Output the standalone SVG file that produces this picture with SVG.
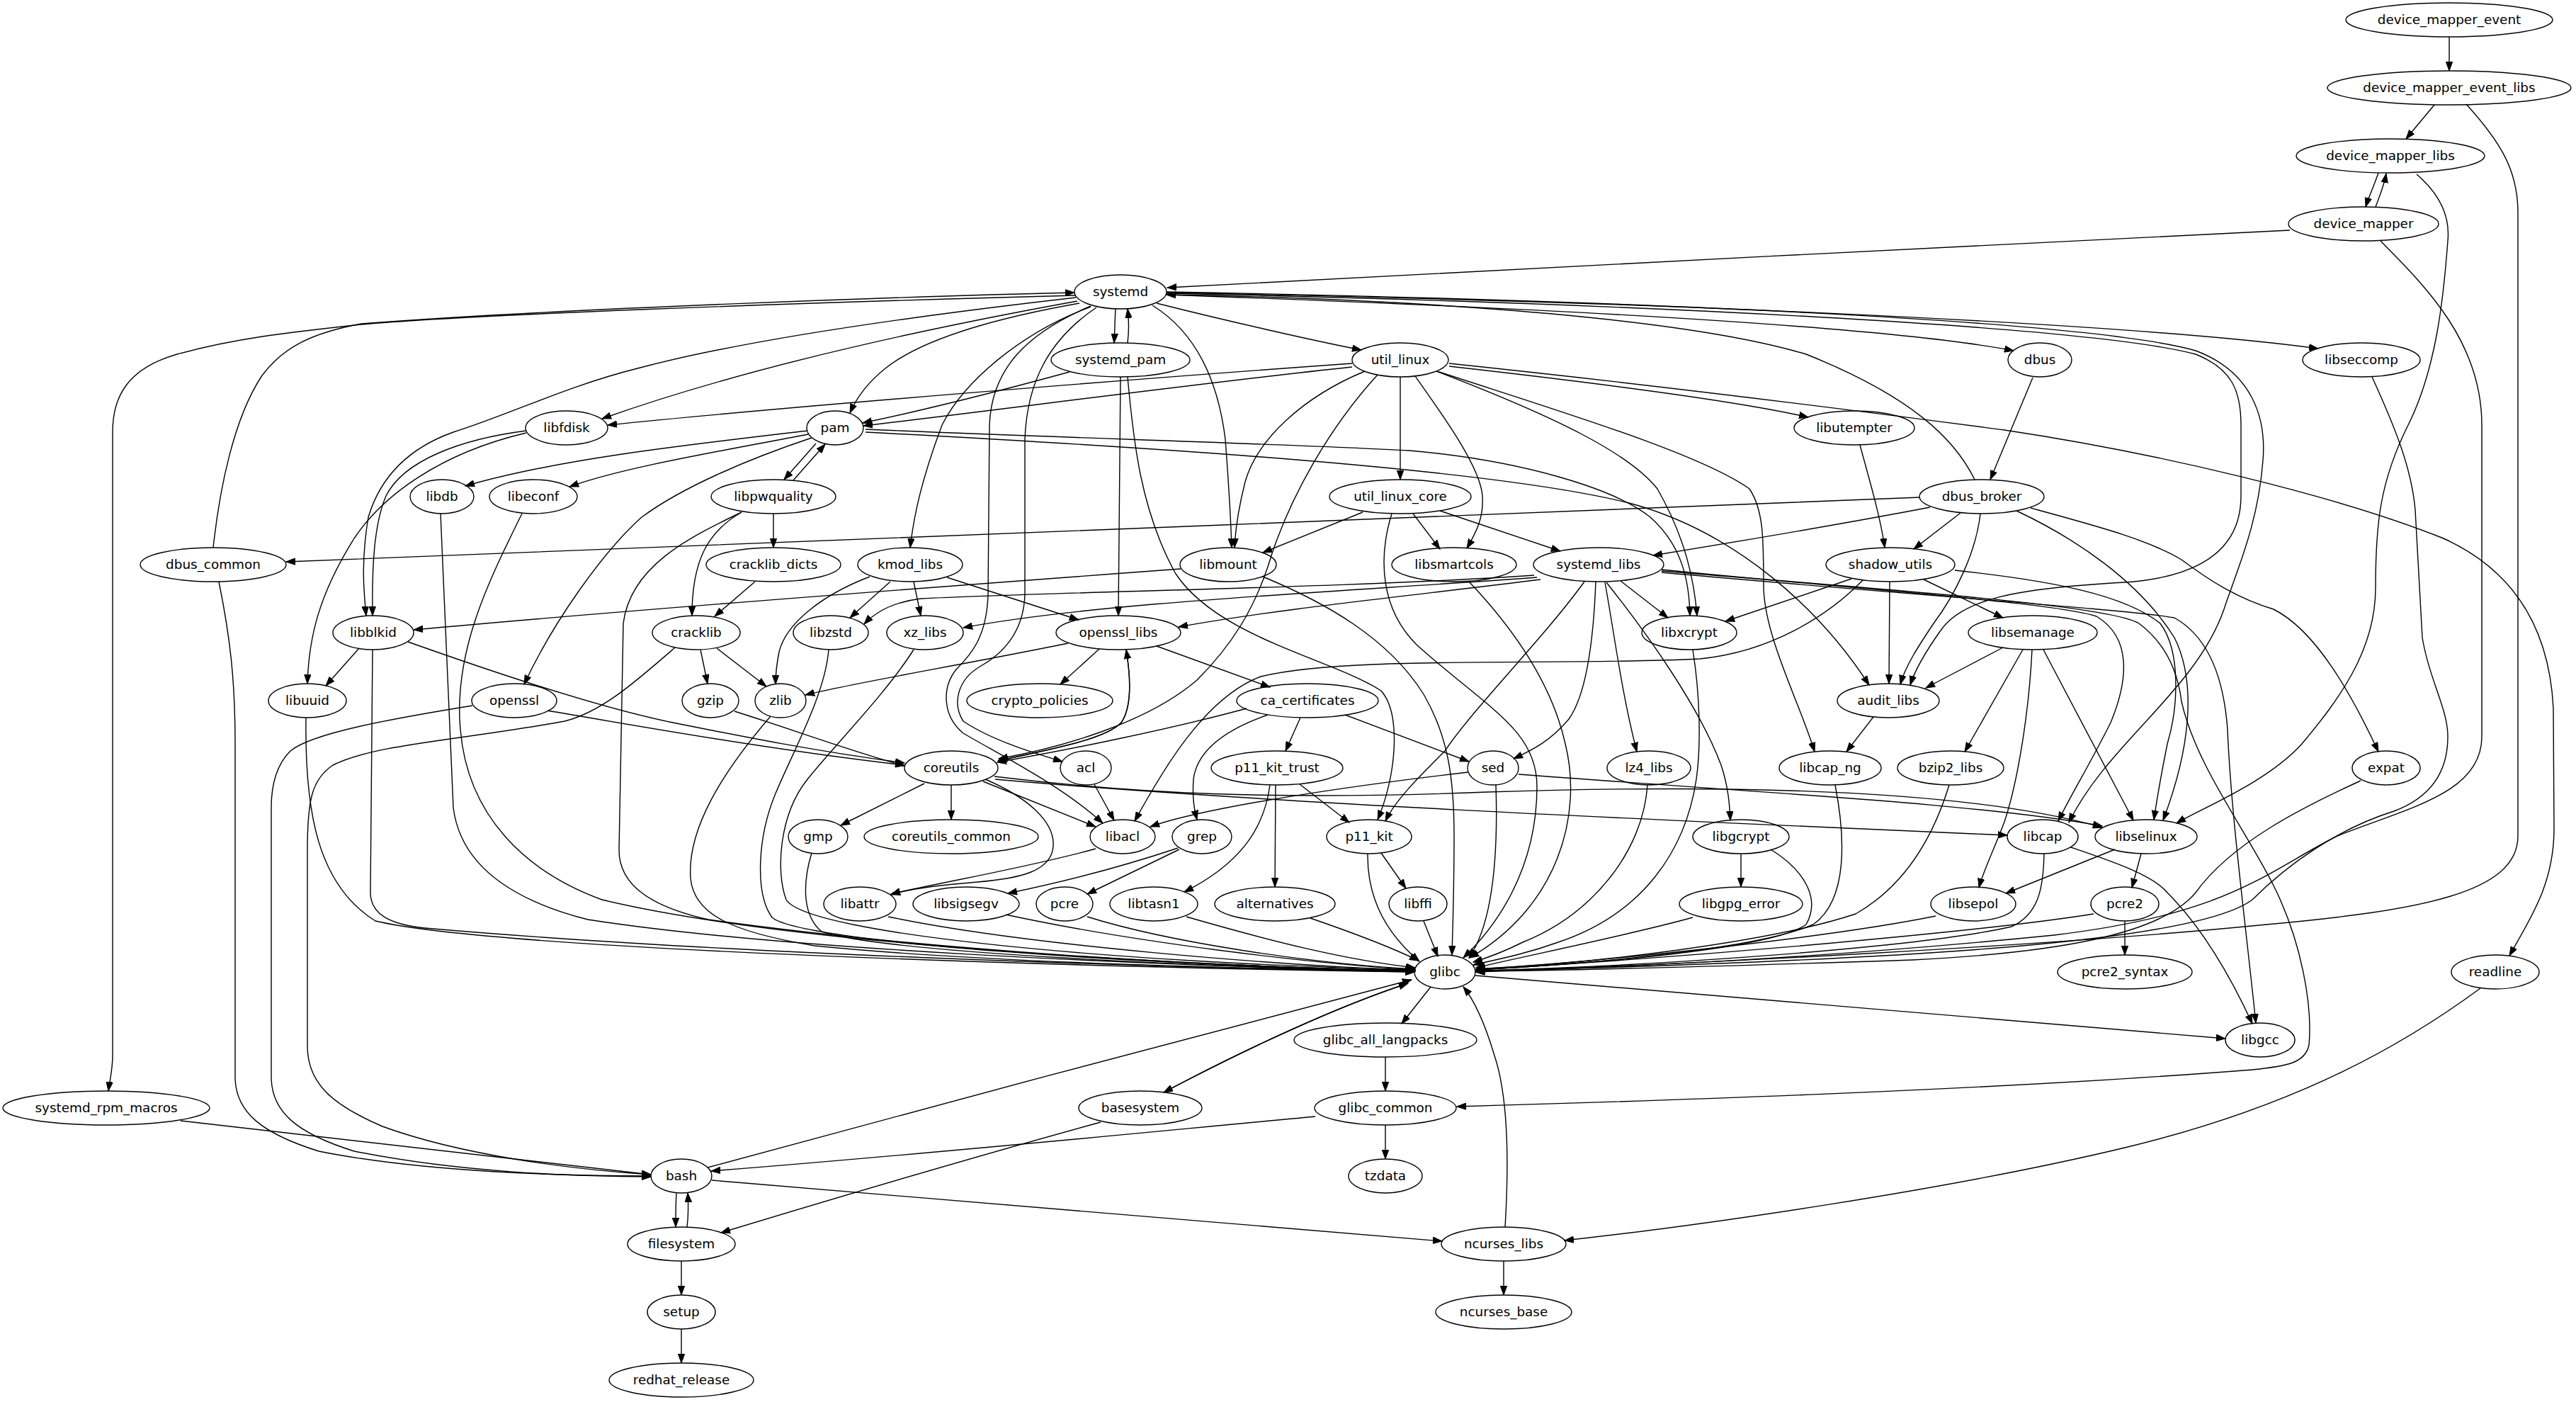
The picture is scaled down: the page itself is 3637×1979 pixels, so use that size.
<svg xmlns="http://www.w3.org/2000/svg" width="3637" height="1979" viewBox="0 0 3637 1979">
<style>
.node ellipse{fill:none;stroke:#000;stroke-width:1.4}
.node text{font-family:"DejaVu Sans","Liberation Sans",sans-serif;font-size:18.4px;text-anchor:middle;fill:#000}
.edges path{fill:none;stroke:#000;stroke-width:1.4;marker-end:url(#arr)}
</style>
<defs>
<marker id="arr" markerUnits="userSpaceOnUse" markerWidth="14" markerHeight="10" refX="13" refY="5" orient="auto"><path d="M0,0.3 L13,5 L0,9.7 z" fill="#000" stroke="#000" stroke-width="1"/></marker>
</defs>
<rect width="3637" height="1979" fill="#fff"/>
<g class="edges">
<path d="M3458,52 L3458,100"/>
<path d="M3437,148 L3397,196"/>
<path d="M3482,147 C3530,200 3555,240 3555,300 L3555,1180 C3555,1260 3420,1285 3200,1305 C2900,1335 2400,1360 2083,1372"/>
<path d="M3358,244 C3352,262 3345,276 3340,292"/>
<path d="M3354,292 C3360,276 3366,262 3369,245"/>
<path d="M3412,246 C3440,270 3460,300 3456,340 C3450,420 3440,520 3400,600 C3360,680 3354,740 3354,830 C3354,920 3300,990 3250,1050 C3200,1105 3110,1140 3073,1162"/>
<path d="M3233,325 C2800,345 2000,388 1648,406"/>
<path d="M3361,340 C3420,400 3504,480 3504,600 L3504,1040 C3504,1120 3400,1140 3300,1180 C3200,1230 3150,1290 2900,1320 C2600,1350 2300,1366 2083,1371"/>
<path d="M1575,436 C1574,452 1574,468 1573,484"/>
<path d="M1592,484 C1594,468 1594,452 1592,436"/>
<path d="M1633,428 C1720,450 1850,480 1922,494"/>
<path d="M1646,416 C2100,432 2650,458 2843,495"/>
<path d="M1647,413 C2300,425 3000,455 3273,492"/>
<path d="M1647,414 C2300,428 2950,460 3100,500 C3150,520 3164,550 3164,600 L3164,700 C3164,780 3100,815 3000,822 C2850,830 2770,845 2740,890 C2715,925 2703,948 2697,967"/>
<path d="M1647,412 C2300,424 2950,452 3100,495 C3180,525 3200,590 3195,650 C3188,740 3160,800 3140,860 C3100,975 2975,1050 2921,1161"/>
<path d="M1521,425 C1300,465 1050,520 850,591"/>
<path d="M1519,420 C1300,445 1050,480 900,520 C800,545 720,585 640,610 C570,635 535,680 520,730 C510,790 513,830 517,869"/>
<path d="M1524,428 C1400,450 1300,480 1250,520 C1225,540 1210,560 1200,583"/>
<path d="M1540,433 C1440,470 1360,540 1330,600 C1300,680 1290,730 1285,773"/>
<path d="M1627,431 C1690,470 1720,540 1730,620 C1736,700 1738,740 1739,773"/>
<path d="M1548,434 C1480,480 1450,540 1447,620 L1447,840 C1445,890 1420,920 1385,940 C1350,960 1345,995 1360,1018 C1400,1045 1460,1063 1500,1075"/>
<path d="M1540,432 C1450,470 1400,520 1397,600 L1395,840 C1393,900 1370,925 1350,945 C1330,970 1330,1010 1360,1035 C1420,1070 1500,1110 1557,1162"/>
<path d="M1518,417 C1100,428 650,445 510,458 C400,470 330,478 250,500 C180,520 159,560 159,610 L159,1490 C159,1510 155,1525 153,1540"/>
<path d="M301,773 C310,690 330,590 370,530 C400,490 440,470 510,457 C800,435 1300,418 1517,413"/>
<path d="M309,821 C325,900 332,960 332,1050 L332,1520 C332,1570 370,1600 450,1625 C600,1655 800,1660 919,1660"/>
<path d="M1909,513 C1600,535 1100,575 858,600"/>
<path d="M1909,518 C1700,540 1400,580 1219,601"/>
<path d="M1927,524 C1840,560 1775,620 1758,680 C1748,720 1744,750 1743,773"/>
<path d="M1977,532 L1977,677"/>
<path d="M1998,531 C2040,590 2090,660 2093,700 C2095,730 2085,750 2071,774"/>
<path d="M1945,529 C1880,600 1820,700 1790,800 C1770,860 1740,910 1690,960 C1620,1020 1500,1055 1410,1071"/>
<path d="M2028,524 C2200,590 2300,640 2340,690 C2380,760 2392,820 2396,869"/>
<path d="M2046,517 C2250,540 2450,565 2553,589"/>
<path d="M2032,525 C2200,580 2400,640 2470,690 C2490,720 2490,760 2490,830 C2492,900 2540,990 2562,1061"/>
<path d="M2046,513 C2400,550 2700,590 2830,607 C3050,640 3300,700 3450,760 C3560,810 3600,900 3605,1000 L3606,1170 C3606,1250 3570,1300 3543,1349"/>
<path d="M1510,525 C1400,555 1300,580 1218,597"/>
<path d="M1582,532 L1579,869"/>
<path d="M1592,532 C1600,620 1610,720 1660,810 C1720,900 1880,930 1950,975 C1980,1010 1970,1100 1945,1157"/>
<path d="M1140,608 C950,630 780,650 657,686"/>
<path d="M1141,613 C1000,640 880,660 804,687"/>
<path d="M1146,618 C1050,650 960,690 906,730 C850,780 780,880 740,966"/>
<path d="M1152,626 L1107,677"/>
<path d="M1120,678 L1165,627"/>
<path d="M1222,606 C1500,618 1800,626 1990,636 C2150,650 2280,690 2330,730 C2375,770 2385,820 2386,869"/>
<path d="M1222,610 C1600,630 2100,660 2300,710 C2450,750 2570,860 2639,967"/>
<path d="M1092,725 L1092,773"/>
<path d="M1047,723 C1000,750 977,790 977,869"/>
<path d="M1047,723 C970,760 890,800 880,880 L874,1200 C874,1250 920,1280 1000,1298 C1300,1340 1700,1365 1997,1370"/>
<path d="M1066,821 L1009,870"/>
<path d="M989,917 L999,965"/>
<path d="M1012,915 L1082,969"/>
<path d="M953,914 C900,960 850,1005 797,1018 C650,1045 530,1050 470,1080 C440,1100 434,1130 434,1200 L434,1476 C434,1530 470,1560 540,1590 C650,1630 800,1650 919,1658"/>
<path d="M667,996 C550,1015 440,1035 410,1060 C390,1080 383,1110 383,1140 L383,1520 C383,1570 420,1600 500,1625 C650,1655 800,1660 919,1661"/>
<path d="M773,1003 C900,1025 1100,1060 1277,1080"/>
<path d="M576,906 C700,950 850,1000 950,1020 C1050,1040 1150,1060 1277,1077"/>
<path d="M1037,1004 C1120,1030 1200,1060 1277,1081"/>
<path d="M743,608 C650,620 570,650 545,700 C528,740 525,800 526,869"/>
<path d="M743,611 C620,640 540,700 500,760 C450,840 436,900 434,965"/>
<path d="M507,915 L460,968"/>
<path d="M526,917 L523,1260 C523,1290 550,1305 600,1310 C1000,1345 1600,1365 1997,1372"/>
<path d="M432,1013 C430,1150 450,1250 530,1300 C700,1340 1500,1365 1997,1372"/>
<path d="M622,725 C630,900 635,1050 640,1140 C650,1220 720,1270 830,1298 C1100,1340 1600,1362 1997,1371"/>
<path d="M737,725 C690,820 640,920 650,1030 C660,1150 740,1230 850,1270 C1100,1330 1600,1360 1997,1371"/>
<path d="M2711,702 C2000,730 1000,770 404,793"/>
<path d="M2788,677 C2760,620 2700,560 2550,500 C2350,440 1900,420 1647,416"/>
<path d="M2725,716 C2600,740 2450,765 2334,784"/>
<path d="M2768,724 L2702,775"/>
<path d="M2796,725 C2790,780 2760,840 2730,880 C2710,910 2690,940 2683,966"/>
<path d="M2847,721 C2930,760 3020,820 3070,900 C3100,960 3095,1050 3054,1158"/>
<path d="M2867,717 C2950,740 3030,760 3080,790 C3120,820 3160,845 3210,860 C3270,890 3320,980 3358,1061"/>
<path d="M2870,533 L2810,677"/>
<path d="M2626,628 C2640,680 2655,730 2661,773"/>
<path d="M3349,532 C3380,600 3405,660 3410,720 L3420,900 C3430,960 3456,1000 3456,1040 C3456,1100 3420,1130 3380,1145 C3300,1170 3230,1220 3180,1270 C3100,1330 2700,1355 2083,1371"/>
<path d="M1924,723 C1870,745 1820,765 1783,780"/>
<path d="M1995,725 L2033,775"/>
<path d="M2033,721 L2203,778"/>
<path d="M1965,725 C1945,790 1950,860 2000,910 C2100,1000 2170,1030 2170,1110 C2170,1230 2110,1310 2066,1352"/>
<path d="M2074,821 C2130,880 2190,960 2210,1050 C2235,1150 2200,1280 2075,1352"/>
<path d="M1667,803 C1300,830 900,860 584,889"/>
<path d="M1783,814 C1870,850 1960,900 2010,980 C2045,1040 2053,1100 2053,1180 C2053,1260 2051,1310 2050,1348"/>
<path d="M1257,821 L1200,872"/>
<path d="M1290,821 L1300,869"/>
<path d="M1337,815 L1523,875"/>
<path d="M1228,814 C1160,840 1110,880 1100,920 C1096,940 1095,955 1095,966"/>
<path d="M2166,812 C1900,830 1500,835 1300,845 C1260,850 1235,865 1220,881"/>
<path d="M2170,815 C1900,835 1550,850 1360,886"/>
<path d="M2175,818 C2000,840 1800,860 1664,885"/>
<path d="M2288,820 L2355,872"/>
<path d="M2253,821 C2250,900 2240,980 2215,1015 C2190,1045 2165,1058 2137,1071"/>
<path d="M2237,821 C2180,900 2080,1000 2040,1060 C2000,1100 1970,1130 1956,1159"/>
<path d="M2266,822 C2280,900 2290,980 2311,1061"/>
<path d="M2268,822 C2330,900 2400,1000 2430,1080 C2440,1110 2442,1135 2443,1158"/>
<path d="M2346,804 C2600,830 2900,850 2960,870 C3010,900 3005,960 2980,1020 C2950,1080 2925,1120 2906,1159"/>
<path d="M2346,808 C2700,840 3000,860 3070,872 C3120,900 3140,960 3145,1030 C3150,1150 3170,1300 3185,1444"/>
<path d="M2346,806 C2700,835 2980,855 3020,880 C3060,910 3075,950 3080,990 C3100,1080 3170,1170 3210,1250 C3250,1330 3265,1420 3260,1475 C3255,1500 3230,1505 3180,1510 C2800,1540 2300,1555 2057,1562"/>
<path d="M2614,817 L2436,877"/>
<path d="M2668,821 L2667,965"/>
<path d="M2716,818 L2828,872"/>
<path d="M2630,819 C2580,870 2500,920 2400,930 C2200,940 1900,925 1780,955 C1700,985 1640,1090 1602,1159"/>
<path d="M2760,805 C2900,820 3000,840 3050,880 C3080,920 3075,1000 3060,1050 C3050,1100 3045,1130 3041,1157"/>
<path d="M2390,917 C2400,980 2402,1050 2395,1100 C2380,1200 2320,1290 2200,1330 C2150,1348 2110,1355 2080,1362"/>
<path d="M2828,914 L2719,971"/>
<path d="M2885,917 L3012,1158"/>
<path d="M2856,917 L2774,1061"/>
<path d="M2869,917 C2865,1000 2850,1100 2830,1160 C2815,1200 2800,1230 2794,1253"/>
<path d="M1552,916 L1497,966"/>
<path d="M1508,908 C1350,940 1200,965 1137,981"/>
<path d="M1633,912 L1793,970"/>
<path d="M1590,917 C1597,960 1597,1000 1583,1020 C1560,1045 1470,1060 1409,1074"/>
<path d="M1409,1074 C1470,1060 1560,1045 1583,1020 C1597,1000 1597,960 1590,917"/>
<path d="M1760,1000 C1650,1030 1500,1060 1408,1076"/>
<path d="M1790,1009 C1730,1030 1690,1060 1685,1100 C1683,1130 1687,1145 1690,1157"/>
<path d="M1836,1013 L1815,1060"/>
<path d="M1899,1009 L2074,1075"/>
<path d="M2645,1012 L2607,1061"/>
<path d="M1305,1106 L1187,1165"/>
<path d="M1343,1108 L1343,1157"/>
<path d="M1388,1103 L1547,1167"/>
<path d="M1391,1100 C1450,1125 1490,1160 1487,1195 C1484,1230 1440,1240 1380,1245 C1320,1250 1280,1255 1258,1263"/>
<path d="M1404,1096 C1600,1120 1800,1130 2100,1118 C2500,1105 2800,1120 2968,1168"/>
<path d="M1405,1100 C1800,1135 2400,1160 2834,1179"/>
<path d="M1545,1107 L1573,1158"/>
<path d="M2073,1090 C1900,1110 1700,1140 1624,1167"/>
<path d="M2144,1093 C2500,1120 2800,1135 2968,1166"/>
<path d="M2112,1108 C2115,1200 2110,1300 2074,1352"/>
<path d="M1835,1107 L1905,1161"/>
<path d="M1801,1108 L1800,1252"/>
<path d="M1793,1108 C1785,1170 1750,1220 1672,1259"/>
<path d="M2326,1108 C2320,1200 2250,1290 2150,1330 C2120,1345 2100,1352 2080,1358"/>
<path d="M2591,1108 C2605,1180 2610,1270 2560,1305 C2480,1340 2250,1360 2084,1369"/>
<path d="M2752,1108 C2730,1180 2690,1250 2620,1290 C2500,1330 2250,1360 2084,1368"/>
<path d="M3333,1102 C3250,1140 3150,1190 3100,1260 C3050,1320 2900,1345 2700,1355 C2400,1365 2200,1370 2084,1371"/>
<path d="M1146,1204 C1135,1240 1130,1290 1160,1315 C1250,1345 1700,1365 1998,1371"/>
<path d="M1547,1198 C1450,1225 1330,1245 1258,1262"/>
<path d="M1665,1199 L1535,1262"/>
<path d="M1663,1197 C1580,1225 1500,1245 1423,1261"/>
<path d="M1931,1205 C1930,1270 1960,1320 2004,1357"/>
<path d="M1950,1204 L1985,1254"/>
<path d="M2458,1205 L2458,1252"/>
<path d="M2500,1199 C2550,1230 2570,1270 2550,1305 C2500,1340 2250,1360 2084,1369"/>
<path d="M2886,1205 C2885,1250 2880,1290 2840,1308 C2700,1340 2300,1365 2084,1370"/>
<path d="M2924,1196 C2980,1215 3040,1235 3060,1260 C3110,1310 3150,1380 3180,1445"/>
<path d="M2986,1199 L2832,1261"/>
<path d="M3023,1205 L3010,1253"/>
<path d="M1254,1294 C1450,1335 1800,1362 1998,1370"/>
<path d="M1420,1291 C1600,1330 1850,1360 1998,1369"/>
<path d="M1535,1294 C1650,1330 1850,1360 1998,1368"/>
<path d="M1675,1294 C1800,1330 1900,1355 1998,1366"/>
<path d="M1850,1296 C1920,1320 1970,1340 2003,1356"/>
<path d="M2010,1300 L2030,1350"/>
<path d="M2390,1295 C2300,1320 2150,1350 2084,1366"/>
<path d="M2733,1293 C2600,1320 2300,1355 2084,1368"/>
<path d="M2956,1290 C2800,1315 2400,1350 2084,1369"/>
<path d="M3000,1300 L3000,1348"/>
<path d="M1088,1011 C1020,1090 970,1170 975,1240 C980,1290 1030,1315 1150,1335 C1400,1360 1800,1368 1998,1371"/>
<path d="M1170,917 C1165,980 1120,1060 1095,1120 C1070,1180 1065,1260 1090,1295 C1130,1330 1600,1362 1998,1370"/>
<path d="M1290,917 C1250,980 1180,1050 1140,1100 C1100,1150 1095,1230 1110,1270 C1140,1320 1600,1360 1998,1369"/>
<path d="M2020,1393 L1979,1445"/>
<path d="M2083,1377 C2500,1410 2900,1445 3142,1466"/>
<path d="M1988,1388 C1890,1420 1760,1480 1643,1542"/>
<path d="M1643,1542 C1760,1480 1890,1420 1988,1388"/>
<path d="M999,1648 C1300,1565 1700,1460 1993,1383"/>
<path d="M1956,1492 L1956,1540"/>
<path d="M1956,1588 L1956,1636"/>
<path d="M1857,1576 C1600,1600 1300,1630 1004,1653"/>
<path d="M1554,1584 C1350,1640 1150,1700 1018,1740"/>
<path d="M255,1582 C500,1610 750,1640 919,1658"/>
<path d="M955,1684 C954,1700 954,1716 954,1732"/>
<path d="M970,1732 C972,1716 972,1700 971,1684"/>
<path d="M962,1780 L962,1828"/>
<path d="M962,1876 L962,1924"/>
<path d="M1005,1666 C1400,1700 1800,1730 2036,1752"/>
<path d="M3502,1395 C3400,1470 3250,1560 3000,1620 C2750,1680 2400,1730 2209,1751"/>
<path d="M2125,1732 C2130,1650 2130,1550 2110,1490 C2095,1440 2080,1410 2066,1393"/>
<path d="M2123,1780 L2123,1828"/>
</g>
<g id="device_mapper_event" class="node"><ellipse cx="3458" cy="28" rx="146" ry="24"/><text x="3458" y="34">device_mapper_event</text></g>
<g id="device_mapper_event_libs" class="node"><ellipse cx="3458" cy="124" rx="172" ry="24"/><text x="3458" y="130">device_mapper_event_libs</text></g>
<g id="device_mapper_libs" class="node"><ellipse cx="3375" cy="220" rx="133" ry="24"/><text x="3375" y="226">device_mapper_libs</text></g>
<g id="device_mapper" class="node"><ellipse cx="3337" cy="316" rx="106" ry="24"/><text x="3337" y="322">device_mapper</text></g>
<g id="systemd" class="node"><ellipse cx="1582" cy="412" rx="65" ry="24"/><text x="1582" y="418">systemd</text></g>
<g id="systemd_pam" class="node"><ellipse cx="1582" cy="508" rx="98" ry="24"/><text x="1582" y="514">systemd_pam</text></g>
<g id="util_linux" class="node"><ellipse cx="1977" cy="508" rx="68" ry="24"/><text x="1977" y="514">util_linux</text></g>
<g id="dbus" class="node"><ellipse cx="2880" cy="508" rx="45" ry="24"/><text x="2880" y="514">dbus</text></g>
<g id="libseccomp" class="node"><ellipse cx="3334" cy="508" rx="83" ry="24"/><text x="3334" y="514">libseccomp</text></g>
<g id="libfdisk" class="node"><ellipse cx="800" cy="604" rx="58" ry="24"/><text x="800" y="610">libfdisk</text></g>
<g id="pam" class="node"><ellipse cx="1179" cy="604" rx="40" ry="24"/><text x="1179" y="610">pam</text></g>
<g id="libutempter" class="node"><ellipse cx="2618" cy="604" rx="85" ry="24"/><text x="2618" y="610">libutempter</text></g>
<g id="libdb" class="node"><ellipse cx="624" cy="701" rx="45" ry="24"/><text x="624" y="707">libdb</text></g>
<g id="libeconf" class="node"><ellipse cx="753" cy="701" rx="62" ry="24"/><text x="753" y="707">libeconf</text></g>
<g id="libpwquality" class="node"><ellipse cx="1092" cy="701" rx="88" ry="24"/><text x="1092" y="707">libpwquality</text></g>
<g id="util_linux_core" class="node"><ellipse cx="1977" cy="701" rx="100" ry="24"/><text x="1977" y="707">util_linux_core</text></g>
<g id="dbus_broker" class="node"><ellipse cx="2798" cy="701" rx="88" ry="24"/><text x="2798" y="707">dbus_broker</text></g>
<g id="dbus_common" class="node"><ellipse cx="301" cy="797" rx="103" ry="24"/><text x="301" y="803">dbus_common</text></g>
<g id="cracklib_dicts" class="node"><ellipse cx="1092" cy="797" rx="95" ry="24"/><text x="1092" y="803">cracklib_dicts</text></g>
<g id="kmod_libs" class="node"><ellipse cx="1285" cy="797" rx="74" ry="24"/><text x="1285" y="803">kmod_libs</text></g>
<g id="libmount" class="node"><ellipse cx="1734" cy="797" rx="68" ry="24"/><text x="1734" y="803">libmount</text></g>
<g id="libsmartcols" class="node"><ellipse cx="2053" cy="797" rx="88" ry="24"/><text x="2053" y="803">libsmartcols</text></g>
<g id="systemd_libs" class="node"><ellipse cx="2257" cy="797" rx="92" ry="24"/><text x="2257" y="803">systemd_libs</text></g>
<g id="shadow_utils" class="node"><ellipse cx="2669" cy="797" rx="91" ry="24"/><text x="2669" y="803">shadow_utils</text></g>
<g id="libblkid" class="node"><ellipse cx="527" cy="893" rx="57" ry="24"/><text x="527" y="899">libblkid</text></g>
<g id="cracklib" class="node"><ellipse cx="983" cy="893" rx="62" ry="24"/><text x="983" y="899">cracklib</text></g>
<g id="libzstd" class="node"><ellipse cx="1173" cy="893" rx="53" ry="24"/><text x="1173" y="899">libzstd</text></g>
<g id="xz_libs" class="node"><ellipse cx="1306" cy="893" rx="54" ry="24"/><text x="1306" y="899">xz_libs</text></g>
<g id="openssl_libs" class="node"><ellipse cx="1579" cy="893" rx="88" ry="24"/><text x="1579" y="899">openssl_libs</text></g>
<g id="libxcrypt" class="node"><ellipse cx="2385" cy="893" rx="67" ry="24"/><text x="2385" y="899">libxcrypt</text></g>
<g id="libsemanage" class="node"><ellipse cx="2870" cy="893" rx="91" ry="24"/><text x="2870" y="899">libsemanage</text></g>
<g id="libuuid" class="node"><ellipse cx="434" cy="989" rx="55" ry="24"/><text x="434" y="995">libuuid</text></g>
<g id="openssl" class="node"><ellipse cx="726" cy="989" rx="60" ry="24"/><text x="726" y="995">openssl</text></g>
<g id="gzip" class="node"><ellipse cx="1003" cy="989" rx="40" ry="24"/><text x="1003" y="995">gzip</text></g>
<g id="zlib" class="node"><ellipse cx="1102" cy="989" rx="36" ry="24"/><text x="1102" y="995">zlib</text></g>
<g id="crypto_policies" class="node"><ellipse cx="1468" cy="989" rx="103" ry="24"/><text x="1468" y="995">crypto_policies</text></g>
<g id="ca_certificates" class="node"><ellipse cx="1846" cy="989" rx="100" ry="24"/><text x="1846" y="995">ca_certificates</text></g>
<g id="audit_libs" class="node"><ellipse cx="2666" cy="989" rx="72" ry="24"/><text x="2666" y="995">audit_libs</text></g>
<g id="coreutils" class="node"><ellipse cx="1343" cy="1084" rx="66" ry="24"/><text x="1343" y="1090">coreutils</text></g>
<g id="acl" class="node"><ellipse cx="1533" cy="1084" rx="36" ry="24"/><text x="1533" y="1090">acl</text></g>
<g id="p11_kit_trust" class="node"><ellipse cx="1803" cy="1084" rx="93" ry="24"/><text x="1803" y="1090">p11_kit_trust</text></g>
<g id="sed" class="node"><ellipse cx="2108" cy="1084" rx="36" ry="24"/><text x="2108" y="1090">sed</text></g>
<g id="lz4_libs" class="node"><ellipse cx="2328" cy="1084" rx="59" ry="24"/><text x="2328" y="1090">lz4_libs</text></g>
<g id="libcap_ng" class="node"><ellipse cx="2584" cy="1084" rx="72" ry="24"/><text x="2584" y="1090">libcap_ng</text></g>
<g id="bzip2_libs" class="node"><ellipse cx="2754" cy="1084" rx="75" ry="24"/><text x="2754" y="1090">bzip2_libs</text></g>
<g id="expat" class="node"><ellipse cx="3369" cy="1084" rx="48" ry="24"/><text x="3369" y="1090">expat</text></g>
<g id="gmp" class="node"><ellipse cx="1155" cy="1181" rx="42" ry="24"/><text x="1155" y="1187">gmp</text></g>
<g id="coreutils_common" class="node"><ellipse cx="1343" cy="1181" rx="123" ry="24"/><text x="1343" y="1187">coreutils_common</text></g>
<g id="libacl" class="node"><ellipse cx="1585" cy="1181" rx="46" ry="24"/><text x="1585" y="1187">libacl</text></g>
<g id="grep" class="node"><ellipse cx="1697" cy="1181" rx="42" ry="24"/><text x="1697" y="1187">grep</text></g>
<g id="p11_kit" class="node"><ellipse cx="1933" cy="1181" rx="60" ry="24"/><text x="1933" y="1187">p11_kit</text></g>
<g id="libgcrypt" class="node"><ellipse cx="2458" cy="1181" rx="68" ry="24"/><text x="2458" y="1187">libgcrypt</text></g>
<g id="libcap" class="node"><ellipse cx="2884" cy="1181" rx="50" ry="24"/><text x="2884" y="1187">libcap</text></g>
<g id="libselinux" class="node"><ellipse cx="3030" cy="1181" rx="72" ry="24"/><text x="3030" y="1187">libselinux</text></g>
<g id="libattr" class="node"><ellipse cx="1214" cy="1276" rx="51" ry="24"/><text x="1214" y="1282">libattr</text></g>
<g id="libsigsegv" class="node"><ellipse cx="1364" cy="1276" rx="75" ry="24"/><text x="1364" y="1282">libsigsegv</text></g>
<g id="pcre" class="node"><ellipse cx="1503" cy="1276" rx="40" ry="24"/><text x="1503" y="1282">pcre</text></g>
<g id="libtasn1" class="node"><ellipse cx="1629" cy="1276" rx="62" ry="24"/><text x="1629" y="1282">libtasn1</text></g>
<g id="alternatives" class="node"><ellipse cx="1800" cy="1276" rx="85" ry="24"/><text x="1800" y="1282">alternatives</text></g>
<g id="libffi" class="node"><ellipse cx="2002" cy="1276" rx="41" ry="24"/><text x="2002" y="1282">libffi</text></g>
<g id="libgpg_error" class="node"><ellipse cx="2458" cy="1276" rx="87" ry="24"/><text x="2458" y="1282">libgpg_error</text></g>
<g id="libsepol" class="node"><ellipse cx="2786" cy="1276" rx="60" ry="24"/><text x="2786" y="1282">libsepol</text></g>
<g id="pcre2" class="node"><ellipse cx="3000" cy="1276" rx="48" ry="24"/><text x="3000" y="1282">pcre2</text></g>
<g id="glibc" class="node"><ellipse cx="2040" cy="1372" rx="43" ry="24"/><text x="2040" y="1378">glibc</text></g>
<g id="pcre2_syntax" class="node"><ellipse cx="3000" cy="1372" rx="95" ry="24"/><text x="3000" y="1378">pcre2_syntax</text></g>
<g id="readline" class="node"><ellipse cx="3523" cy="1372" rx="62" ry="24"/><text x="3523" y="1378">readline</text></g>
<g id="glibc_all_langpacks" class="node"><ellipse cx="1956" cy="1468" rx="129" ry="24"/><text x="1956" y="1474">glibc_all_langpacks</text></g>
<g id="libgcc" class="node"><ellipse cx="3191" cy="1468" rx="49" ry="24"/><text x="3191" y="1474">libgcc</text></g>
<g id="systemd_rpm_macros" class="node"><ellipse cx="150" cy="1564" rx="146" ry="24"/><text x="150" y="1570">systemd_rpm_macros</text></g>
<g id="basesystem" class="node"><ellipse cx="1610" cy="1564" rx="87" ry="24"/><text x="1610" y="1570">basesystem</text></g>
<g id="glibc_common" class="node"><ellipse cx="1956" cy="1564" rx="100" ry="24"/><text x="1956" y="1570">glibc_common</text></g>
<g id="bash" class="node"><ellipse cx="962" cy="1660" rx="43" ry="24"/><text x="962" y="1666">bash</text></g>
<g id="tzdata" class="node"><ellipse cx="1956" cy="1660" rx="52" ry="24"/><text x="1956" y="1666">tzdata</text></g>
<g id="filesystem" class="node"><ellipse cx="962" cy="1756" rx="76" ry="24"/><text x="962" y="1762">filesystem</text></g>
<g id="ncurses_libs" class="node"><ellipse cx="2123" cy="1756" rx="88" ry="24"/><text x="2123" y="1762">ncurses_libs</text></g>
<g id="setup" class="node"><ellipse cx="962" cy="1852" rx="48" ry="24"/><text x="962" y="1858">setup</text></g>
<g id="ncurses_base" class="node"><ellipse cx="2123" cy="1852" rx="96" ry="24"/><text x="2123" y="1858">ncurses_base</text></g>
<g id="redhat_release" class="node"><ellipse cx="962" cy="1948" rx="102" ry="24"/><text x="962" y="1954">redhat_release</text></g>
</svg>
